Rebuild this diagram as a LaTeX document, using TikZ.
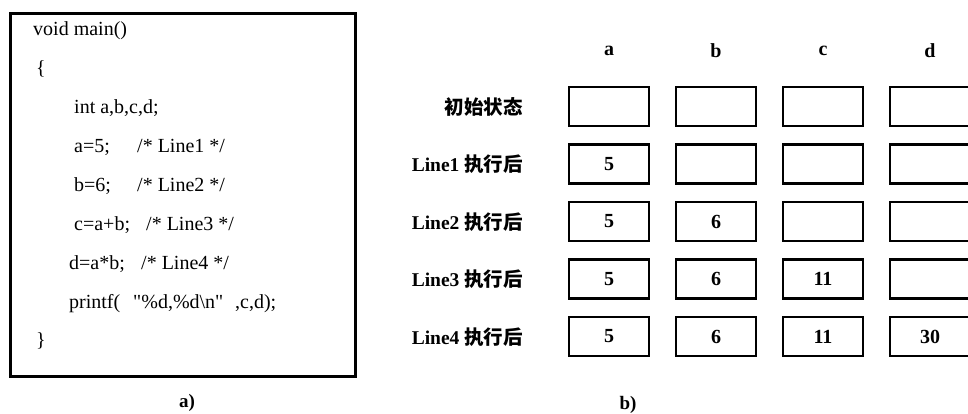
\documentclass[tikz,border=0pt]{standalone}
\usepackage{fontspec}
\setmainfont{Liberation Serif}
\newfontfamily\codefont{Liberation Serif}[Ligatures=TeXOff]
\newfontfamily\cjk{Noto Sans CJK SC}
\begin{document}
\begin{tikzpicture}[x=1pt,y=-1pt,
  code/.style={anchor=base west,inner sep=0pt,font=\codefont\fontsize{20}{24}\selectfont},
  cell/.style={draw,line width=2.2pt,minimum width=80pt,minimum height=39pt,inner sep=0pt,font=\bfseries\fontsize{20}{24}\selectfont},
  hdr/.style={inner sep=0pt,font=\bfseries\fontsize{20}{24}\selectfont},
  rowlab/.style={anchor=east,inner sep=0pt,font=\bfseries\fontsize{19.5}{24}\selectfont},
  sublabel/.style={inner sep=0pt,font=\bfseries\fontsize{19}{24}\selectfont}]
\useasboundingbox (0,0) rectangle (968,414);
\clip (0,0) rectangle (968,414);
% (a) code box
\node[draw,line width=3pt,minimum width=345pt,minimum height=362pt,anchor=north west,inner sep=0pt] (codebox) at (8.5,12.5) {};
\node[code] (l0) at (33,36) {void main()};
\node[code] (l1) at (36,75) {\{};
\node[code] (l2) at (74,114) {int a,b,c,d;};
\node[code] (l3) at (74,153) {a=5;};
\node[code] (c3) at (137,153) {/* Line1 */};
\node[code] (l4) at (74,191.5) {b=6;};
\node[code] (c4) at (137,191.5) {/* Line2 */};
\node[code] (l5) at (74,230) {c=a+b;};
\node[code] (c5) at (146,230) {/* Line3 */};
\node[code] (l6) at (69,269) {d=a*b;};
\node[code] (c6) at (141,269) {/* Line4 */};
\node[code] (l7) at (69,308) {printf(};
\node[code] (s7) at (133,308) {"\%d,\%d\textbackslash n"};
\node[code] (e7) at (235,308) {,c,d);};
\node[code] (l8) at (36,346) {\}};
\node[sublabel] (capa) at (187,403) {a)};
% (b) table
\node[hdr] (ha) at (609,51) {a};
\node[hdr] (hb) at (716,51) {b};
\node[hdr] (hc) at (823,51) {c};
\node[hdr] (hd) at (930,51) {d};
\node[rowlab] (r0) at (523,107) {\cjk 初始状态};
\node[rowlab] (r1) at (523,164.5) {Line1 {\cjk 执行后}};
\node[rowlab] (r2) at (523,222) {Line2 {\cjk 执行后}};
\node[rowlab] (r3) at (523,279.5) {Line3 {\cjk 执行后}};
\node[rowlab] (r4) at (523,337) {Line4 {\cjk 执行后}};
% row 0
\node[cell] (a0) at (609,106.5) {};
\node[cell] (b0) at (716,106.5) {};
\node[cell] (cc0) at (823,106.5) {};
\node[cell] (d0) at (930,106.5) {};
% row 1
\node[cell] (a1) at (609,164) {5};
\node[cell] (b1) at (716,164) {};
\node[cell] (cc1) at (823,164) {};
\node[cell] (d1) at (930,164) {};
% row 2
\node[cell] (a2) at (609,221.5) {5};
\node[cell] (b2) at (716,221.5) {6};
\node[cell] (cc2) at (823,221.5) {};
\node[cell] (d2) at (930,221.5) {};
% row 3
\node[cell] (a3) at (609,279) {5};
\node[cell] (b3) at (716,279) {6};
\node[cell] (cc3) at (823,279) {11};
\node[cell] (d3) at (930,279) {};
% row 4
\node[cell] (a4) at (609,336.5) {5};
\node[cell] (b4) at (716,336.5) {6};
\node[cell] (cc4) at (823,336.5) {11};
\node[cell] (d4) at (930,336.5) {30};
\node[sublabel] (capb) at (628,405) {b)};
\end{tikzpicture}
\end{document}
